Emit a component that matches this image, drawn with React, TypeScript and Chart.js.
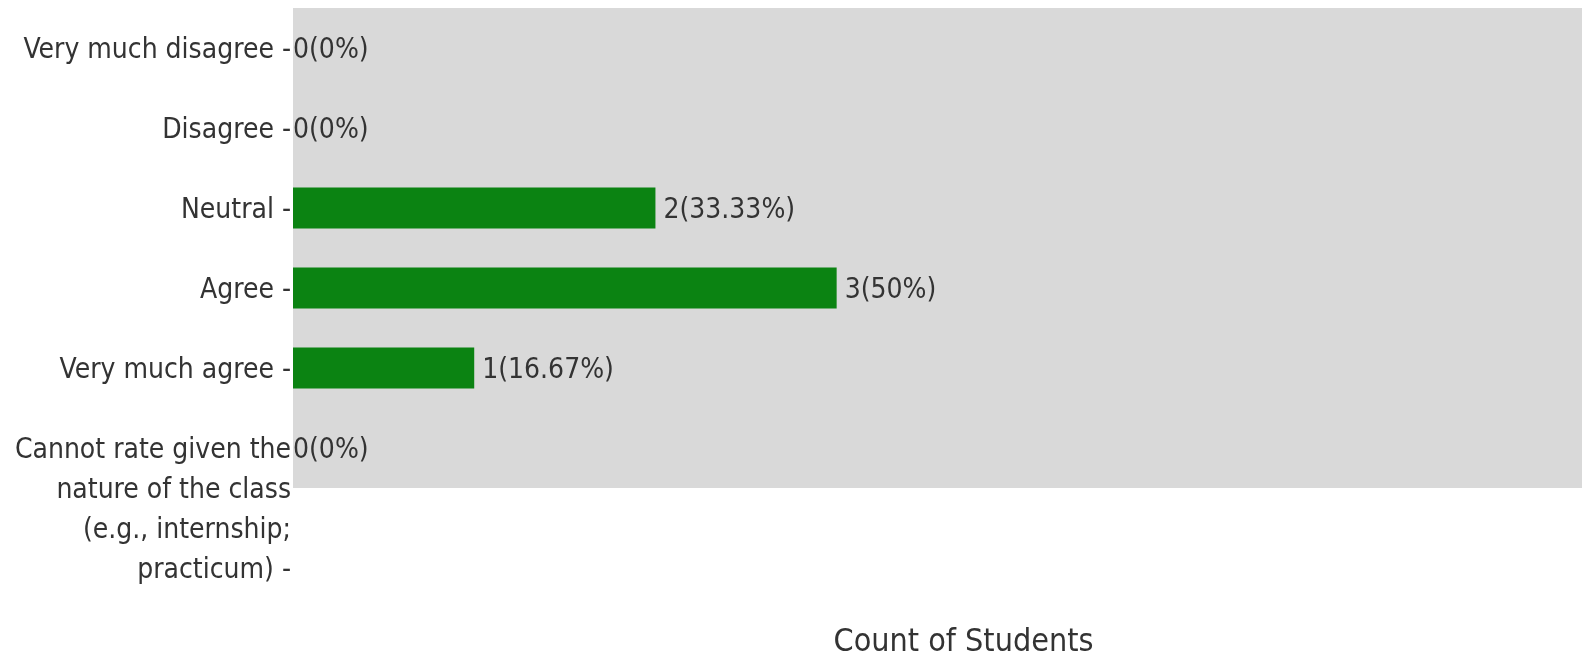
import React, { useEffect, useRef } from "react";
import { Chart, registerables } from "chart.js";

Chart.register(...registerables);

const categories: (string | string[])[] = [
  "Very much disagree -",
  "Disagree -",
  "Neutral -",
  "Agree -",
  "Very much agree -",
  ["", "", "", "Cannot rate given the", "nature of the class", "(e.g., internship;", "practicum) -"],
];
const counts = [0, 0, 2, 3, 1, 0];
const percents = ["0%", "0%", "33.33%", "50%", "16.67%", "0%"];
const xTitle = "Count of Students";
const X_MAX = 7.4;

const FONT = '"DejaVu Sans Condensed", "DejaVu Sans", sans-serif';
const TEXT = "#333333";
const TICK_SIZE = 28;
const TEXT_SHIFT = 2.5;

const bgPlugin = {
  id: "plotBg",
  beforeDatasetsDraw(chart: any) {
    const { ctx, chartArea } = chart;
    ctx.save();
    ctx.fillStyle = "#d9d9d9";
    ctx.fillRect(chartArea.left, chartArea.top, chartArea.right - chartArea.left, chartArea.bottom - chartArea.top);
    ctx.restore();
  },
};

const valueLabels = {
  id: "valueLabels",
  afterDatasetsDraw(chart: any) {
    const ctx = chart.ctx;
    const meta = chart.getDatasetMeta(0);
    ctx.save();
    ctx.font = `${TICK_SIZE}px ${FONT}`;
    ctx.fillStyle = TEXT;
    ctx.textAlign = "left";
    ctx.textBaseline = "middle";
    meta.data.forEach((bar: any, i: number) => {
      const v = counts[i];
      const x = bar.x + (v > 0 ? 8 : 0);
      ctx.fillText(`${v}(${percents[i]})`, x, bar.y + TEXT_SHIFT);
    });
    ctx.restore();
  },
};

export default function App() {
  const ref = useRef<HTMLCanvasElement | null>(null);

  useEffect(() => {
    if (!ref.current) return;
    const chart = new Chart(ref.current, {
      type: "bar",
      data: {
        labels: categories as any,
        datasets: [
          {
            data: counts,
            backgroundColor: "#0b8312",
            borderWidth: 0,
            barPercentage: 0.515,
            categoryPercentage: 1,
          },
        ],
      },
      options: {
        indexAxis: "y",
        responsive: false,
        animation: false,
        events: [],
        layout: { padding: 0 },
        plugins: {
          legend: { display: false },
          tooltip: { enabled: false },
        },
        scales: {
          x: {
            type: "linear",
            min: 0,
            max: X_MAX,
            grid: { display: false, drawTicks: false },
            border: { display: false },
            ticks: { display: false },
            title: {
              display: true,
              text: xTitle,
              color: TEXT,
              font: { family: FONT, size: 32, lineHeight: 1.2 },
              padding: { top: 135.3, bottom: 6.3 },
            },
          },
          y: {
            type: "category",
            grid: { display: false, drawTicks: false },
            border: { display: false },
            ticks: {
              color: TEXT,
              padding: 2,
              autoSkip: false,
              labelOffset: TEXT_SHIFT,
              font: { family: FONT, size: TICK_SIZE, lineHeight: 40 / TICK_SIZE },
            },
            afterFit(scale: any) {
              scale.width = 285;
              scale.paddingTop = 0;
              scale.paddingBottom = 0;
            },
          },
        },
      },
      plugins: [bgPlugin, valueLabels],
    });
    return () => chart.destroy();
  }, []);

  return (
    <div
      style={{
        position: "absolute",
        left: 8,
        top: 8,
        width: 1574,
        height: 648,
        overflow: "hidden",
      }}
    >
      <canvas ref={ref} width={1626} height={660} style={{ display: "block", width: 1626, height: 660 }} />
    </div>
  );
}
